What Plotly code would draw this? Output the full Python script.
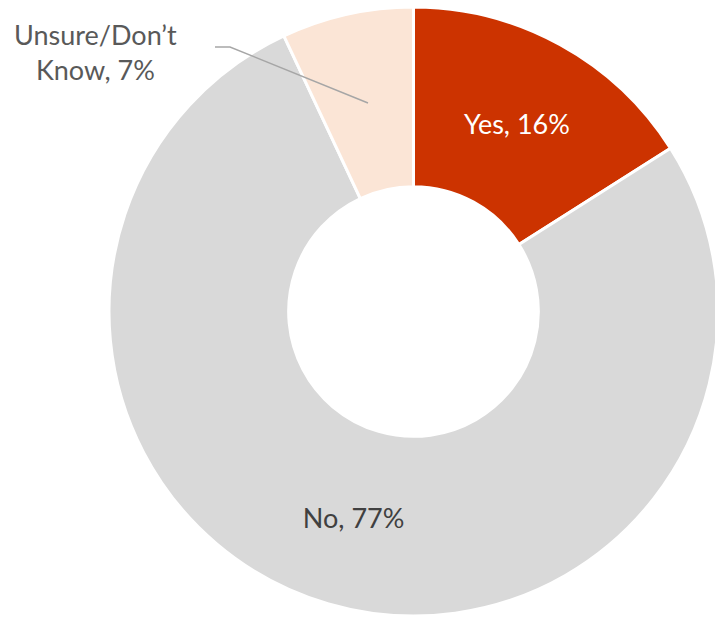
import plotly.graph_objects as go

labels = ["Yes", "No", "Unsure/Don’t Know"]
values = [16, 77, 7]
display_text = ["Yes, 16%", "No, 77%", ""]
colors = ["#CC3300", "#D9D9D9", "#FBE5D6"]
text_colors = ["#FFFFFF", "#404040", "#404040"]

# layout is a little wider than the window so the donut is clipped on the right
W, H = 725, 618
cx, cy, R = 413.5, 311.5, 304.5

fig = go.Figure(go.Pie(
    labels=labels,
    values=values,
    text=display_text,
    textinfo="text",
    textposition="inside",
    insidetextorientation="horizontal",
    sort=False,
    direction="clockwise",
    rotation=0,
    hole=0.41,
    marker=dict(colors=colors, line=dict(color="#FFFFFF", width=3)),
    insidetextfont=dict(family="Lato, sans-serif", size=27, color=text_colors),
    hoverinfo="label+percent",
    domain=dict(x=[(cx - R) / W, (cx + R) / W], y=[(H - cy - R) / H, (H - cy + R) / H]),
    showlegend=False,
))

# outside label for the small slice
fig.add_annotation(
    x=95 / W, y=1 - 52 / H, xref="paper", yref="paper",
    xanchor="center", yanchor="middle",
    text=f"Unsure/Don’t<br>Know, {values[2]}%",
    showarrow=False,
    font=dict(family="Lato, sans-serif", size=27, color="#595959"),
    align="center",
)
fig.add_shape(
    type="path", xref="paper", yref="paper",
    path=f"M {215/W} {1-47/H} L {230/W} {1-47/H} L {368/W} {1-103/H}",
    line=dict(color="#A6A6A6", width=1.5),
)

fig.update_layout(
    width=W, height=H,
    margin=dict(l=0, r=0, t=0, b=0),
    paper_bgcolor="#FFFFFF",
    plot_bgcolor="#FFFFFF",
)

fig.write_html(
    "out.html",
    config={"displayModeBar": False},
    post_script="document.body.style.margin='0';document.body.style.overflow='hidden';",
)
